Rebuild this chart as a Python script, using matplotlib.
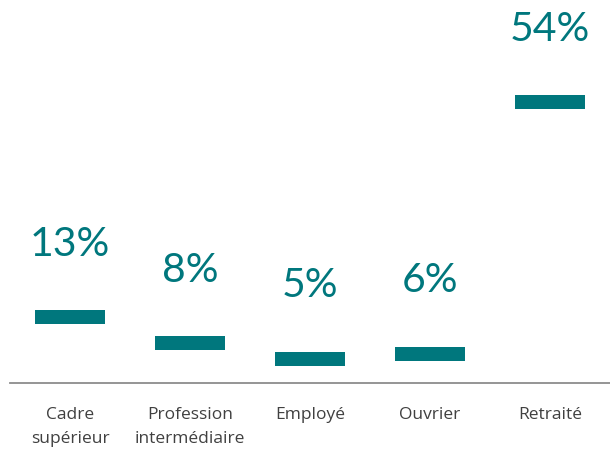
import numpy as np
import matplotlib.pyplot as plt

#Chart data
categories = ['Cadre\nsupérieur', 'Profession\nintermédiaire', 'Employé', 'Ouvrier', 'Retraité']
values = [13, 8, 5, 6, 54]
labels = ['13%', '8%', '5%', '6%', '54%']

teal = '#00777D'
x = np.arange(len(categories))

fig = plt.figure(figsize=(6.10, 4.49), dpi=100)
ax = fig.add_axes([10/610, 66/449, 600/610, 383/449])

#Thin floating markers centred on each value
h = 2.7
ax.bar(x, h, bottom=np.array(values) - h/2, width=0.583, color=teal)

for xi, v, lab in zip(x, values, labels):
    ax.annotate(lab, (xi, v), xytext=(0, 52.5), textcoords='offset points',
                ha='center', va='center', fontsize=29.5, color=teal,
                family='Lato')

ax.set_xlim(-0.5, 4.5)
ax.set_ylim(0.4, 0.4 + 383/5.24)
ax.set_xticks(x)
ax.set_xticklabels(categories, fontsize=12.5, color='#404040', family='Open Sans',
                   linespacing=1.7)
ax.tick_params(axis='x', length=0, pad=17)
ax.set_yticks([])
for side in ['top', 'right', 'left']:
    ax.spines[side].set_visible(False)
ax.spines['bottom'].set_color('#8C8C8C')
ax.spines['bottom'].set_linewidth(1.3)

fig.savefig('out.png', dpi=100)
